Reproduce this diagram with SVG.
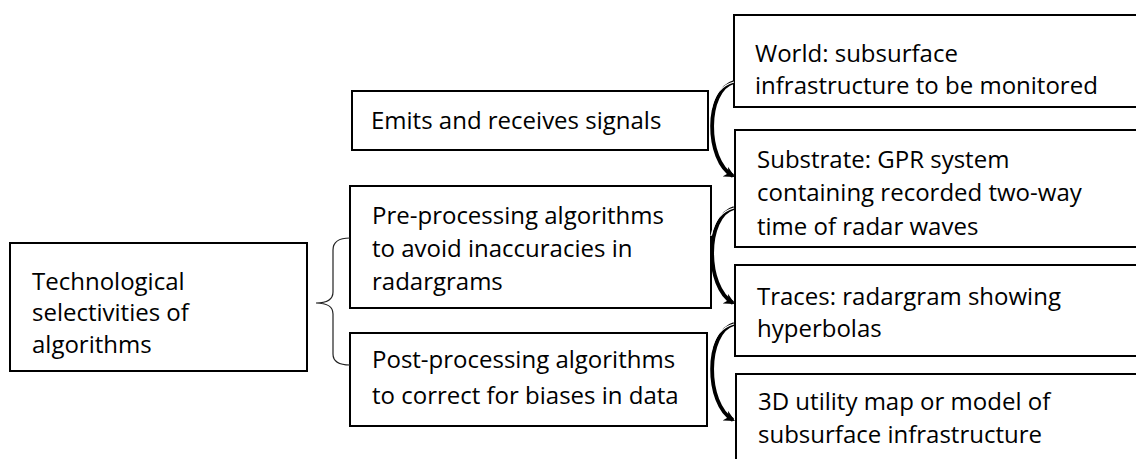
<svg xmlns="http://www.w3.org/2000/svg" width="1136" height="459" viewBox="0 0 1136 459">
  <style>
    .box { fill: #fff; stroke: #000; stroke-width: 2; }
    .lbl { font-family: "Open Sans", "Liberation Sans", sans-serif; font-size: 24px; fill: #000; }
    .brace { fill: none; stroke: #222; stroke-width: 1.2; }
    .arc { fill: none; stroke: #000; stroke-width: 3.8; }
    .arc-core { fill: none; stroke: #fff; stroke-width: 1.2; }
  </style>
  <defs>
    <marker id="head" viewBox="0 0 10 10" refX="8" refY="5" markerWidth="11" markerHeight="11" markerUnits="userSpaceOnUse" orient="auto">
      <path d="M0,0 L10,5 L0,10 L3,5 Z" fill="#000"/>
    </marker>
  </defs>

  <rect width="1136" height="459" fill="#fff"/>

  <g id="tech">
    <rect class="box" x="10" y="243" width="297" height="128"/>
    <text class="lbl" x="32" y="290">Technological</text>
    <text class="lbl" x="32" y="321">selectivities of</text>
    <text class="lbl" x="32" y="353">algorithms</text>
  </g>

  <g id="emits">
    <rect class="box" x="352" y="91" width="356" height="59"/>
    <text class="lbl" x="371" y="129">Emits and receives signals</text>
  </g>

  <g id="pre">
    <rect class="box" x="350" y="186" width="361" height="122"/>
    <text class="lbl" x="372" y="224">Pre-processing algorithms</text>
    <text class="lbl" x="372" y="257">to avoid inaccuracies in</text>
    <text class="lbl" x="372" y="290">radargrams</text>
  </g>

  <g id="post">
    <rect class="box" x="350" y="333" width="357" height="93"/>
    <text class="lbl" x="372" y="368">Post-processing algorithms</text>
    <text class="lbl" x="372" y="404">to correct for biases in data</text>
  </g>

  <g id="world">
    <rect class="box" x="734" y="15" width="420" height="92"/>
    <text class="lbl" x="755" y="62">World: subsurface</text>
    <text class="lbl" x="755" y="94">infrastructure to be monitored</text>
  </g>

  <g id="substrate">
    <rect class="box" x="735" y="130" width="420" height="117"/>
    <text class="lbl" x="757" y="168">Substrate: GPR system</text>
    <text class="lbl" x="757" y="201">containing recorded two-way</text>
    <text class="lbl" x="757" y="235">time of radar waves</text>
  </g>

  <g id="traces">
    <rect class="box" x="735" y="265" width="420" height="91"/>
    <text class="lbl" x="757" y="305">Traces: radargram showing</text>
    <text class="lbl" x="757" y="337">hyperbolas</text>
  </g>

  <g id="utility-map">
    <rect class="box" x="736" y="374" width="420" height="100"/>
    <text class="lbl" x="758" y="410">3D utility map or model of</text>
    <text class="lbl" x="758" y="443">subsurface infrastructure</text>
  </g>

  <g id="connectors">
    <!-- brace grouping the two algorithm boxes -->
    <path class="brace" d="M350,238 Q333,238 333,250 L333,292 Q333,303 316,303 Q333,303 333,314 L333,354 Q333,365 350,365"/>

    <!-- curved arrows stepping down the right column -->
    <path class="arc" d="M734,82 C705,90 705,160 733,176" marker-end="url(#head)"/>
    <path class="arc-core" d="M734,82 C722,85 714,95 711,110"/>

    <path class="arc" d="M734,208 C705,216 705,287 733,303" marker-end="url(#head)"/>
    <path class="arc-core" d="M734,208 C722,211 714,221 711,236"/>

    <path class="arc" d="M734,324 C705,332 705,404 733,420" marker-end="url(#head)"/>
    <path class="arc-core" d="M734,324 C722,327 714,337 711,352"/>
  </g>
</svg>
